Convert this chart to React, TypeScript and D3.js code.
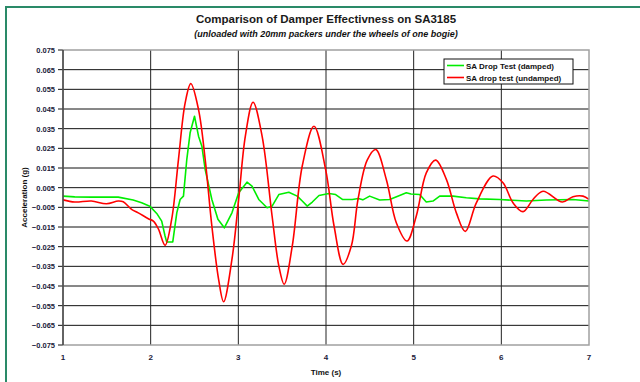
import { useEffect, useRef } from "react";
import * as d3 from "d3";

const Y_TICKS = [0.075, 0.065, 0.055, 0.045, 0.035, 0.025, 0.015, 0.005, -0.005, -0.015, -0.025, -0.035, -0.045, -0.055, -0.065, -0.075];
const X_TICKS = [1, 2, 3, 4, 5, 6, 7];

// SA drop test (undamped)
const undampedT = [1.0, 1.134, 1.324, 1.496, 1.63, 1.687, 1.782, 1.859, 1.973, 2.031, 2.088, 2.164, 2.24, 2.317, 2.393, 2.458, 2.546, 2.622, 2.698, 2.775, 2.832, 2.927, 3.004, 3.08, 3.168, 3.271, 3.385, 3.462, 3.523, 3.615, 3.729, 3.863, 3.996, 4.092, 4.195, 4.289, 4.365, 4.47, 4.567, 4.688, 4.802, 4.924, 5.03, 5.144, 5.251, 5.373, 5.487, 5.589, 5.715, 5.905, 6.019, 6.133, 6.247, 6.361, 6.475, 6.696, 6.817, 6.932, 7.0];
const undampedV = [-0.0012, -0.0023, -0.0018, -0.0032, -0.0018, -0.0022, -0.006, -0.0078, -0.0108, -0.012, -0.016, -0.0243, -0.011, 0.0193, 0.048, 0.0579, 0.0447, 0.0193, -0.0145, -0.0416, -0.053, -0.0315, -0.001, 0.0312, 0.0484, 0.0312, -0.0094, -0.0348, -0.0441, -0.0247, 0.016, 0.0362, 0.0142, -0.0145, -0.034, -0.0247, -0.001, 0.019, 0.0244, 0.0092, -0.0128, -0.0221, -0.0094, 0.0125, 0.019, 0.0092, -0.0078, -0.0172, -0.0027, 0.0109, 0.0075, -0.0027, -0.0072, -0.001, 0.0032, -0.0023, 0.0004, 0.0007, -0.001];

// SA Drop Test (damped)
const dampedT = [1.0, 1.134, 1.324, 1.63, 1.8, 1.897, 1.99, 2.069, 2.126, 2.164, 2.183, 2.252, 2.298, 2.336, 2.374, 2.412, 2.45, 2.5, 2.546, 2.584, 2.622, 2.698, 2.767, 2.84, 2.927, 3.004, 3.099, 3.156, 3.233, 3.328, 3.385, 3.462, 3.576, 3.672, 3.729, 3.786, 3.844, 3.92, 4.034, 4.11, 4.187, 4.3, 4.37, 4.42, 4.498, 4.612, 4.726, 4.84, 4.916, 4.97, 5.068, 5.144, 5.22, 5.297, 5.449, 5.6, 5.753, 5.981, 6.285, 6.513, 6.817, 7.0];
const dampedV = [0.0007, 0.0003, 0.0002, 0.0002, -0.0013, -0.0027, -0.0044, -0.0081, -0.012, -0.0196, -0.0226, -0.0226, -0.0078, -0.001, 0.0007, 0.0193, 0.0329, 0.0413, 0.0312, 0.0261, 0.0142, -0.001, -0.0111, -0.0154, -0.0078, 0.0024, 0.0078, 0.0058, -0.001, -0.0052, -0.0044, 0.0015, 0.0027, 0.0007, -0.0018, -0.0044, -0.0023, 0.001, 0.002, 0.0015, -0.001, -0.001, -0.0005, -0.0012, 0.0007, -0.0013, -0.001, 0.001, 0.0024, 0.0018, 0.0015, -0.0023, -0.0018, 0.0007, 0.0007, -0.0001, -0.0007, -0.001, -0.0018, -0.0013, -0.001, -0.0018];

const SERIES = [
  { name: "SA Drop Test (damped)", color: "#00ee00", t: dampedT, v: dampedV },
  { name: "SA drop test (undamped)", color: "#ff0000", t: undampedT, v: undampedV },
];

const FONT = "'Liberation Sans', Arial, sans-serif";

export default function App() {
  const ref = useRef<SVGSVGElement>(null);

  useEffect(() => {
    if (!ref.current) return;
    const W = 640, H = 382;
    const ML = 63, MR = 589, MT = 50, MB = 345;

    const svg = d3.select(ref.current).attr("width", W).attr("height", H);
    svg.selectAll("*").remove();

    svg.append("rect").attr("width", W).attr("height", H).attr("fill", "#fff");

    // outer frame
    svg.append("path")
      .attr("d", `M6,${H} V7 H${W}`)
      .attr("fill", "none").attr("stroke", "#2a8a68").attr("stroke-width", 2);

    const x = d3.scaleLinear().domain([1, 7]).range([ML, MR]);
    const y = d3.scaleLinear().domain([-0.075, 0.075]).range([MB, MT]);

    // title
    svg.append("text").attr("x", 326).attr("y", 23).attr("text-anchor", "middle")
      .attr("font-family", FONT).attr("font-size", 11.5).attr("font-weight", "bold").attr("fill", "#1a1a1a")
      .text("Comparison of Damper Effectivness on SA3185");
    svg.append("text").attr("x", 326).attr("y", 37).attr("text-anchor", "middle")
      .attr("font-family", FONT).attr("font-size", 9).attr("font-weight", "bold").attr("font-style", "italic").attr("fill", "#111")
      .text("(unloaded with 20mm packers under the wheels of one bogie)");

    const g = svg.append("g");

    // horizontal grid
    g.selectAll("line.hg").data(Y_TICKS.slice(1, -1)).enter().append("line")
      .attr("x1", ML).attr("x2", MR)
      .attr("y1", d => y(d)).attr("y2", d => y(d))
      .attr("stroke", "#111").attr("stroke-width", 1);

    // vertical grid
    g.selectAll("line.vg").data(X_TICKS.slice(1, -1)).enter().append("line")
      .attr("y1", MT).attr("y2", MB)
      .attr("x1", d => x(d)).attr("x2", d => x(d))
      .attr("stroke", "#222").attr("stroke-width", 1);

    // y ticks + labels
    g.selectAll("line.yt").data(Y_TICKS).enter().append("line")
      .attr("x1", ML - 5).attr("x2", ML)
      .attr("y1", d => y(d)).attr("y2", d => y(d))
      .attr("stroke", "#111");
    g.selectAll("text.yl").data(Y_TICKS).enter().append("text")
      .attr("x", ML - 8).attr("y", d => y(d) + 3)
      .attr("text-anchor", "end")
      .attr("font-family", FONT).attr("font-size", 7.5).attr("font-weight", "bold").attr("fill", "#1a1a3a")
      .text(d => d3.format(".3f")(d));

    // x labels
    g.selectAll("text.xl").data(X_TICKS).enter().append("text")
      .attr("x", d => x(d)).attr("y", 360)
      .attr("text-anchor", "middle")
      .attr("font-family", FONT).attr("font-size", 8).attr("font-weight", "bold").attr("fill", "#1a1a3a")
      .text(d => String(d));

    // axis titles
    svg.append("text").attr("x", 326).attr("y", 375).attr("text-anchor", "middle")
      .attr("font-family", FONT).attr("font-size", 8).attr("font-weight", "bold").attr("fill", "#111")
      .text("Time (s)");
    svg.append("text").attr("transform", `translate(27,${(MT + MB) / 2}) rotate(-90)`)
      .attr("text-anchor", "middle")
      .attr("font-family", FONT).attr("font-size", 8).attr("font-weight", "bold").attr("fill", "#111")
      .text("Acceleration (g)");

    // series
    SERIES.forEach(s => {
      const pts = s.t.map((t, i) => [t, s.v[i]] as [number, number]);
      const line = d3.line<[number, number]>()
        .x(d => x(d[0])).y(d => y(d[1]))
        .curve(s.name.includes("undamped") ? d3.curveCatmullRom : d3.curveLinear);
      g.append("path").datum(pts)
        .attr("d", line)
        .attr("fill", "none").attr("stroke", s.color).attr("stroke-width", 1.6)
        .attr("stroke-linejoin", "round");
    });

    // plot border
    g.append("rect").attr("x", ML).attr("y", MT).attr("width", MR - ML).attr("height", MB - MT)
      .attr("fill", "none").attr("stroke", "#a0a0a0").attr("stroke-width", 1.5);
    g.append("line").attr("x1", ML).attr("x2", ML).attr("y1", MT).attr("y2", MB).attr("stroke", "#111");

    // legend
    const lg = svg.append("g").attr("transform", "translate(444,59)");
    lg.append("rect").attr("width", 129).attr("height", 25)
      .attr("fill", "#fff").attr("stroke", "#111").attr("stroke-width", 1);
    SERIES.forEach((s, i) => {
      const cy = 6.5 + i * 12;
      lg.append("line").attr("x1", 3).attr("x2", 20).attr("y1", cy).attr("y2", cy)
        .attr("stroke", s.color).attr("stroke-width", 1.6);
      lg.append("text").attr("x", 22).attr("y", cy + 3)
        .attr("font-family", FONT).attr("font-size", 8).attr("font-weight", "bold").attr("fill", "#111")
        .text(s.name);
    });
  }, []);

  return (
    <div style={{ position: "fixed", left: 0, top: 0 }}>
      <svg ref={ref} style={{ display: "block" }} />
    </div>
  );
}
